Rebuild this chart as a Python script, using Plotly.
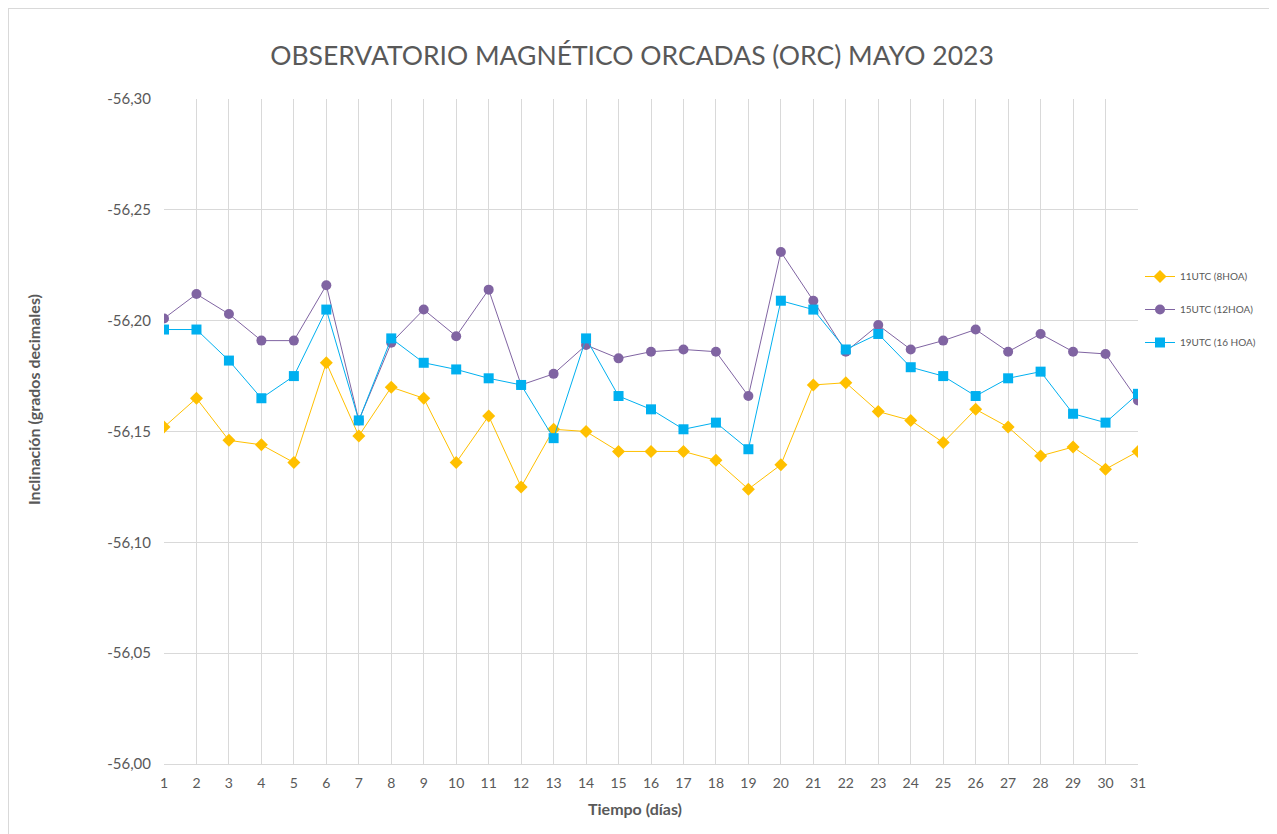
import plotly.graph_objects as go

days = list(range(1, 32))

utc11 = [-56.152, -56.165, -56.146, -56.144, -56.136, -56.181, -56.148, -56.170, -56.165, -56.136,
         -56.157, -56.125, -56.151, -56.150, -56.141, -56.141, -56.141, -56.137, -56.124, -56.135,
         -56.171, -56.172, -56.159, -56.155, -56.145, -56.160, -56.152, -56.139, -56.143, -56.133,
         -56.141]

utc15 = [-56.201, -56.212, -56.203, -56.191, -56.191, -56.216, -56.155, -56.190, -56.205, -56.193,
         -56.214, -56.171, -56.176, -56.189, -56.183, -56.186, -56.187, -56.186, -56.166, -56.231,
         -56.209, -56.186, -56.198, -56.187, -56.191, -56.196, -56.186, -56.194, -56.186, -56.185,
         -56.164]

utc19 = [-56.196, -56.196, -56.182, -56.165, -56.175, -56.205, -56.155, -56.192, -56.181, -56.178,
         -56.174, -56.171, -56.147, -56.192, -56.166, -56.160, -56.151, -56.154, -56.142, -56.209,
         -56.205, -56.187, -56.194, -56.179, -56.175, -56.166, -56.174, -56.177, -56.158, -56.154,
         -56.167]

series_names = ["11UTC (8HOA)", "15UTC (12HOA)", "19UTC (16 HOA)"]
y_ticks = [-56.30, -56.25, -56.20, -56.15, -56.10, -56.05, -56.00]
y_tick_text = [f"{v:.2f}".replace(".", ",") for v in y_ticks]

gray = "#595959"
fig = go.Figure()
fig.add_trace(go.Scatter(x=days, y=utc11, name=series_names[0], mode="lines+markers", legendgroup="a",
                         line=dict(color="#FFC000", width=1),
                         marker=dict(symbol="diamond", size=10, color="#FFC000")))
fig.add_trace(go.Scatter(x=days, y=utc15, name=series_names[1], mode="lines+markers", legendgroup="b",
                         line=dict(color="#8064A2", width=1),
                         marker=dict(symbol="circle", size=10, color="#8064A2")))
fig.add_trace(go.Scatter(x=days, y=utc19, name=series_names[2], mode="lines+markers", legendgroup="c",
                         line=dict(color="#00B0F0", width=1),
                         marker=dict(symbol="square", size=10, color="#00B0F0")))

# page has an 8px body margin; figure placed so plot area lands at 164..1138 x 99..764
OFF = 8
W, H = 1277 - OFF, 834 - OFF
ml, mt = 164 - OFF, 99 - OFF
pw, ph = 1138 - 164, 764 - 99
mr, mb = W - ml - pw, H - mt - ph

def px(x):
    return (x - OFF - ml) / pw

def py(y):
    return 1 - (y - OFF - mt) / ph

fig.update_layout(
    width=W, height=H,
    margin=dict(l=ml, r=mr, t=mt, b=mb),
    paper_bgcolor="white", plot_bgcolor="white",
    font=dict(family="Lato, Open Sans, sans-serif", color=gray),
    title=dict(text="OBSERVATORIO MAGNÉTICO ORCADAS (ORC) MAYO 2023",
               x=(632 - OFF) / W, xanchor="center", y=1 - (56 - OFF) / H, yanchor="middle",
               font=dict(size=26.5, color=gray, family="Lato, sans-serif")),
    xaxis=dict(range=[1, 31], tickmode="array", tickvals=days, ticktext=[str(d) for d in days],
               showgrid=True, gridcolor="#D9D9D9", gridwidth=1, zeroline=False,
               showline=True, linecolor="#D9D9D9", ticks="", tickfont=dict(size=14, color=gray),
               ticklabelstandoff=6),
    yaxis=dict(range=[-56.00, -56.30], tickmode="array", tickvals=y_ticks, ticktext=y_tick_text,
               showgrid=True, gridcolor="#D9D9D9", gridwidth=1, zeroline=False,
               showline=False, ticks="", tickfont=dict(size=15, color=gray),
               ticklabelstandoff=12),
    legend=dict(x=px(1140), y=py(262), xanchor="left", yanchor="top",
                font=dict(size=10, color=gray), tracegroupgap=14,
                bgcolor="rgba(0,0,0,0)"),
    showlegend=True,
    annotations=[
        dict(text="<b>Tiempo (días)</b>", xref="paper", yref="paper", x=px(635), y=py(808),
             xanchor="center", yanchor="middle", showarrow=False,
             font=dict(size=16, color=gray)),
        dict(text="<b>Inclinación (grados decimales)</b>", xref="paper", yref="paper",
             x=px(33), y=py(400), xanchor="center", yanchor="middle", showarrow=False,
             textangle=-90, font=dict(size=16, color=gray)),
    ],
)

# chart outer border (top and left edges visible in the reference)
fig.add_shape(type="line", xref="paper", yref="paper",
              x0=px(8), x1=px(1277), y0=py(8.5), y1=py(8.5),
              line=dict(color="#D9D9D9", width=1))
fig.add_shape(type="line", xref="paper", yref="paper",
              x0=px(8.5), x1=px(8.5), y0=py(8), y1=py(834),
              line=dict(color="#D9D9D9", width=1))

fig.write_html("out.html")
